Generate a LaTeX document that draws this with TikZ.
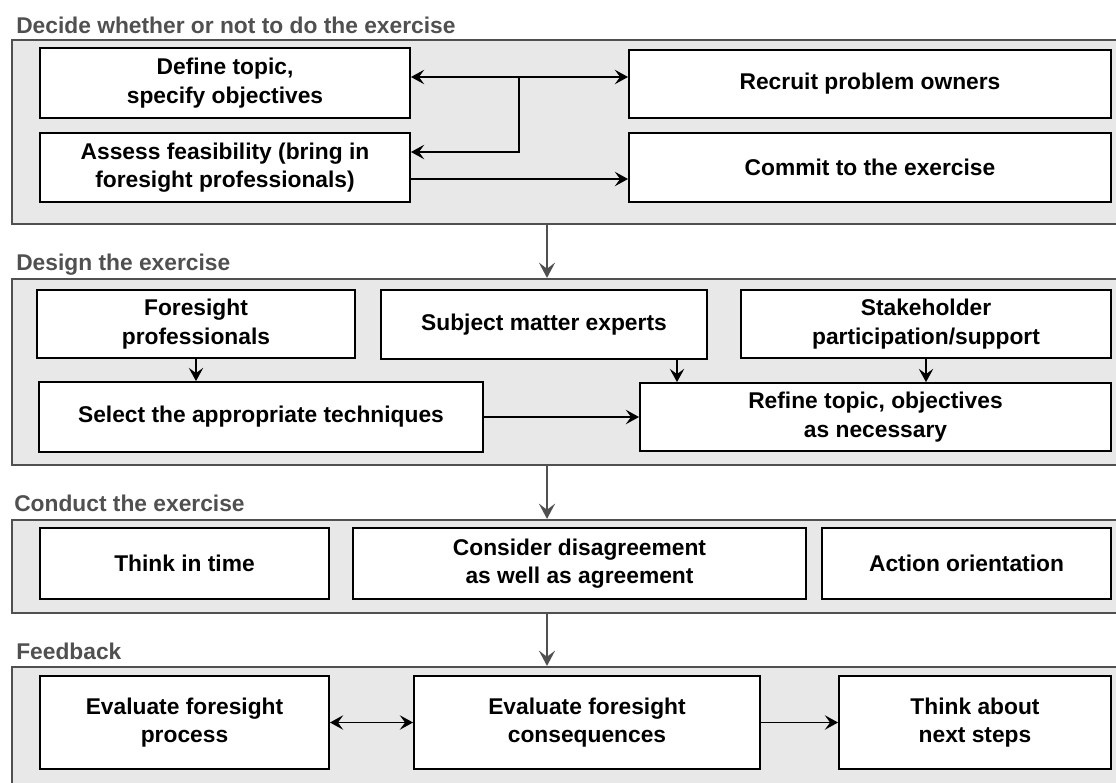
\documentclass[tikz,border=0pt]{standalone}
\usepackage{fontspec}
\setmainfont{Liberation Sans}
\usetikzlibrary{arrows.meta}

\definecolor{panelfill}{HTML}{E8E8E8}
\definecolor{panelline}{HTML}{505050}

\tikzset{
    box/.style={draw=black, line width=1.3pt, fill=white, align=center, inner sep=0pt,
        font=\fontsize{16.2pt}{20.3pt}\selectfont\bfseries},
    panel/.style={draw=panelline, line width=1.5pt, fill=panelfill, inner sep=0pt},
    titolo/.style={anchor=west, inner sep=0pt, text=panelline,
        font=\fontsize{16.2pt}{20.3pt}\selectfont\bfseries},
    link/.style={-{Stealth[length=0.33cm,width=0.36cm,inset=0.13cm]}, line width=1.1pt},
    linkboth/.style={{Stealth[length=0.33cm,width=0.36cm,inset=0.13cm]}-{Stealth[length=0.33cm,width=0.36cm,inset=0.13cm]}, line width=1.1pt},
    flow/.style={-{Stealth[length=0.38cm,width=0.4cm,inset=0.15cm]}, draw=panelline, line width=1.7pt},
}

\begin{document}
\begin{tikzpicture}[x=0.025cm, y=-0.025cm]
        \useasboundingbox (0,0) rectangle (1116,782);

        % Pannelli di sfondo
        \node[panel, minimum width=27.7cm, minimum height=4.6cm] (p1) at (566,132) {};
        \node[panel, minimum width=27.7cm, minimum height=4.65cm] (p2) at (566,372) {};
        \node[panel, minimum width=27.7cm, minimum height=2.325cm] (p3) at (566,566.5) {};
        \node[panel, minimum width=27.7cm, minimum height=3.325cm] (p4) at (566,733.5) {};

        % Titoli delle fasi
        \node[titolo] (t1) at (16,25) {Decide whether or not to do the exercise};
        \node[titolo] (t2) at (16,265) {Design the exercise};
        \node[titolo] (t3) at (14,503) {Conduct the exercise};
        \node[titolo] (t4) at (16,651) {Feedback};

        % Fase 1
        \node[box, minimum width=9.25cm, minimum height=1.75cm] (define) at (225,83) {Define topic,\\specify objectives};
        \node[box, minimum width=9.25cm, minimum height=1.725cm] (assess) at (225,167.5) {Assess feasibility (bring in\\foresight professionals)};
        \node[box, minimum width=12.05cm, minimum height=1.7cm] (recruit) at (870,84) {Recruit problem owners};
        \node[box, minimum width=12.05cm, minimum height=1.725cm] (commit) at (870,167.5) {Commit to the exercise};

        % Fase 2
        \node[box, minimum width=7.95cm, minimum height=1.7cm] (foresight) at (196,324) {Foresight\\professionals};
        \node[box, minimum width=8.15cm, minimum height=1.725cm] (subject) at (544,324.5) {Subject matter experts};
        \node[box, minimum width=9.25cm, minimum height=1.7cm] (stakeholder) at (926,324) {Stakeholder\\participation/support};
        \node[box, minimum width=11.1cm, minimum height=1.75cm] (select) at (261,417) {Select the appropriate techniques};
        \node[box, minimum width=11.775cm, minimum height=1.7cm] (refine) at (875.5,417) {Refine topic, objectives\\as necessary};

        % Fase 3
        \node[box, minimum width=7.225cm, minimum height=1.775cm] (think) at (184.5,563.5) {Think in time};
        \node[box, minimum width=11.325cm, minimum height=1.775cm] (consider) at (579.5,563.5) {Consider disagreement\\as well as agreement};
        \node[box, minimum width=7.225cm, minimum height=1.775cm] (action) at (966.5,563.5) {Action orientation};

        % Fase 4
        \node[box, minimum width=7.225cm, minimum height=2.325cm] (evalproc) at (184.5,722.5) {Evaluate foresight\\process};
        \node[box, minimum width=8.65cm, minimum height=2.325cm] (evalcons) at (587,722.5) {Evaluate foresight\\consequences};
        \node[box, minimum width=6.8cm, minimum height=2.325cm] (nextsteps) at (975,722.5) {Think about\\next steps};

        % Punti di appoggio per le frecce
        \coordinate (jn) at (519,77);
        \coordinate (ja) at (519,152);
        \coordinate (jc) at (519,179);
        \coordinate (mid) at (547,0);
        \coordinate (sx) at (677,0);

        % Frecce dentro la fase 1
        \draw[linkboth] (define.east |- jn) -- (recruit.west |- jn);
        \draw[link] (jn) -- (ja) -- (assess.east |- ja);
        \draw[link] (assess.east |- jc) -- (commit.west |- jc);

        % Frecce dentro la fase 2
        \draw[link] (foresight.south) -- (foresight.south |- select.north);
        \draw[link] (subject.south -| sx) -- (refine.north -| sx);
        \draw[link, line width=0.8pt] (stakeholder.south) -- (stakeholder.south |- refine.north);
        \draw[link] (select.east) -- (select.east -| refine.west);

        % Frecce dentro la fase 4
        \draw[linkboth] (evalproc.east) -- (evalcons.west);
        \draw[link] (evalcons.east) -- (nextsteps.west);

        % Frecce tra le fasi
        \draw[flow] (p1.south -| mid) -- (p2.north -| mid);
        \draw[flow] (p2.south -| mid) -- (p3.north -| mid);
        \draw[flow] (p3.south -| mid) -- (p4.north -| mid);

    \end{tikzpicture}
\end{document}
